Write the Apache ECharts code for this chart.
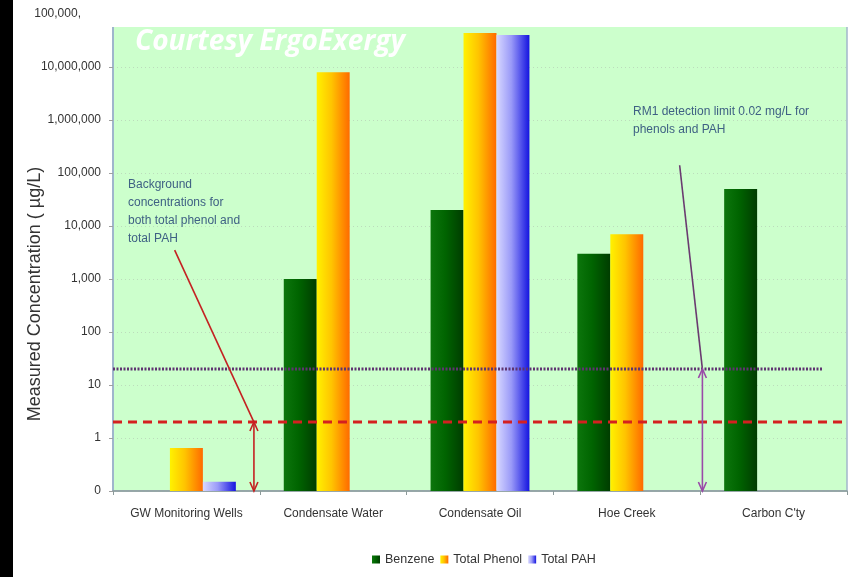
<!DOCTYPE html>
<html>
<head>
<meta charset="utf-8">
<script src="https://cdn.jsdelivr.net/npm/echarts@6/dist/echarts.min.js"></script>
<style>
  html, body { margin: 0; padding: 0; background: #ffffff; }
  #chart { width: 865px; height: 577px; }
</style>
</head>
<body>
<div id="chart"></div>
<script>
// Sites sampled
const categories = ['GW Monitoring Wells', 'Condensate Water', 'Condensate Oil', 'Hoe Creek', "Carbon C'ty"];

// Measured concentrations, µg/L (null = not reported)
const benzene     = [null, 1000, 20000, 3000, 50000];
const totalPhenol = [0.65, 8000000, 44000000, 7000, null];
const totalPAH    = [0.15, null, 40000000, null, null];

// Reference levels, µg/L
const backgroundLevel = 2;    // background for total phenol and total PAH
const detectionLimit = 20;    // RM1 detection limit, 0.02 mg/L

// Log axis range, µg/L
const yMin = 0.1;
const yMax = 100000000;

const BAR_FRACTION = 0.2245;  // each bar's share of a category band
const FONT = '"Liberation Sans", Arial, sans-serif';

const G = echarts.graphic;
const fills = {
  benzene: new G.LinearGradient(0, 0, 1, 0, [
    { offset: 0, color: '#0c760c' }, { offset: 0.45, color: '#006400' }, { offset: 1, color: '#003c00' }
  ]),
  phenol: new G.LinearGradient(0, 0, 1, 0, [
    { offset: 0, color: '#fff200' }, { offset: 0.45, color: '#ffc400' }, { offset: 1, color: '#ff6a00' }
  ]),
  pah: new G.LinearGradient(0, 0, 1, 0, [
    { offset: 0, color: '#d8d8ff' }, { offset: 0.45, color: '#9a9af8' }, { offset: 1, color: '#1414e0' }
  ])
};

function toPoints(values) {
  const pts = [];
  values.forEach((v, i) => { if (v != null) pts.push([i, v]); });
  return pts;
}

// Bars grow up from the bottom of the log axis; slot 0..2 places them side by side in the band
function barSeries(name, values, slot, fill) {
  return {
    name: name,
    type: 'custom',
    data: toPoints(values),
    encode: { x: 0, y: 1 },
    itemStyle: { color: fill },
    renderItem: function (params, api) {
      const cat = api.value(0);
      const val = api.value(1);
      const top = api.coord([cat, val]);
      const base = api.coord([cat, yMin]);
      const band = api.size([1, 0])[0];
      const w = band * BAR_FRACTION;
      const x = top[0] + (slot - 1.5) * w;
      return {
        type: 'rect',
        shape: { x: x, y: top[1], width: w, height: base[1] - top[1] },
        style: { fill: fill }
      };
    }
  };
}

const chart = echarts.init(document.getElementById('chart'), null, { renderer: 'canvas' });

const option = {
  animation: false,
  backgroundColor: '#ffffff',
  textStyle: { fontFamily: FONT },
  grid: {
    left: 113, right: 18, top: 14, bottom: 86,
    show: true,
    backgroundColor: '#ccffcc',
    borderColor: '#a2b6cc',
    borderWidth: 1.5
  },
  legend: {
    data: ['Benzene', 'Total Phenol', 'Total PAH'],
    left: 367, top: 548,
    icon: 'rect',
    itemWidth: 8, itemHeight: 8, itemGap: 6,
    textStyle: { fontFamily: FONT, fontSize: 12.5, color: '#333333' }
  },
  xAxis: {
    type: 'category',
    data: categories,
    axisLine: { lineStyle: { color: '#8c9a9a', width: 1.5 } },
    axisTick: { show: true, length: 4, lineStyle: { color: '#8c9a9a' } },
    axisLabel: { fontFamily: FONT, fontSize: 12, color: '#333333', margin: 17 },
    splitLine: { show: false }
  },
  yAxis: {
    type: 'log',
    logBase: 10,
    min: yMin,
    max: yMax,
    interval: 1,
    axisLine: { show: true, lineStyle: { color: '#9fb5cc', width: 2 } },
    axisTick: { show: true, length: 4, lineStyle: { color: '#a0a0a0' } },
    axisLabel: {
      fontFamily: FONT, fontSize: 12, color: '#333333', margin: 12,
      formatter: function (v) { return Math.round(v).toLocaleString('en-US'); }
    },
    splitLine: { show: true, lineStyle: { color: '#bcdcbc', type: [1, 3], width: 1 } }
  },
  series: [
    barSeries('Benzene', benzene, 0, fills.benzene),
    barSeries('Total Phenol', totalPhenol, 1, fills.phenol),
    barSeries('Total PAH', totalPAH, 2, fills.pah)
  ]
};

chart.setOption(option);

// Reference levels and annotation arrows, placed through the axis scales
const xOf = (i) => chart.convertToPixel({ xAxisIndex: 0 }, i);
const yOf = (v) => chart.convertToPixel({ yAxisIndex: 0 }, v);
const band = xOf(1) - xOf(0);
const plotLeft = xOf(0) - band / 2;
const plotRight = xOf(categories.length - 1) + band / 2;

function arrowHeads(x, yTop, yBot, color) {
  return [
    { type: 'polyline', z: 40, shape: { points: [[x - 4, yTop + 9], [x, yTop], [x + 4, yTop + 9]] }, style: { stroke: color, lineWidth: 1.6, fill: null } },
    { type: 'polyline', z: 40, shape: { points: [[x - 4, yBot - 9], [x, yBot], [x + 4, yBot - 9]] }, style: { stroke: color, lineWidth: 1.6, fill: null } },
    { type: 'line', z: 40, shape: { x1: x, y1: yTop, x2: x, y2: yBot }, style: { stroke: color, lineWidth: 1.6 } }
  ];
}

const redX = xOf(0) + 0.46 * band;
const redTop = yOf(backgroundLevel);
const purpleX = xOf(3) + 0.515 * band;
const purpleTop = yOf(detectionLimit);
const axisBottom = yOf(yMin);

const graphics = [].concat(
  [
    {
      type: 'line', z: 30,
      shape: { x1: plotLeft, y1: yOf(backgroundLevel), x2: plotRight, y2: yOf(backgroundLevel) },
      style: { stroke: '#d42020', lineWidth: 3, lineDash: [9, 6] }
    },
    {
      type: 'line', z: 30,
      shape: { x1: plotLeft, y1: yOf(detectionLimit), x2: xOf(4) + 0.34 * band, y2: yOf(detectionLimit) },
      style: { stroke: '#5e3470', lineWidth: 3, lineDash: [2, 1.5] }
    },
    { type: 'line', z: 40, shape: { x1: xOf(0) - 0.08 * band, y1: yOf(3500), x2: redX, y2: redTop }, style: { stroke: '#c42222', lineWidth: 1.6 } }
  ],
  arrowHeads(redX, redTop, axisBottom, '#c42222'),
  [{ type: 'line', z: 40, shape: { x1: xOf(3) + 0.36 * band, y1: yOf(140000), x2: purpleX, y2: purpleTop }, style: { stroke: '#6a3a70', lineWidth: 1.6 } }],
  arrowHeads(purpleX, purpleTop, axisBottom, '#9a4aa8'),
  [
    {
      type: 'text', z: 45, left: 128, top: 176,
      style: {
        text: 'Background\nconcentrations for\nboth total phenol and\ntotal PAH',
        fill: '#3f6184', font: '12px ' + FONT, lineHeight: 18
      }
    },
    {
      type: 'text', z: 45, left: 633, top: 103,
      style: {
        text: 'RM1 detection limit 0.02 mg/L for\nphenols and PAH',
        fill: '#3f6184', font: '12px ' + FONT, lineHeight: 18
      }
    },
    {
      type: 'text', z: 45, x: 35, y: 294, rotation: Math.PI / 2,
      style: {
        text: 'Measured Concentration ( \u00b5g/L)',
        fill: '#333333', font: '18px ' + FONT, align: 'center', verticalAlign: 'middle'
      }
    },
    // white band across the top and dark strip at the left edge
    { type: 'rect', z: 50, shape: { x: 81, y: 0, width: 784, height: 27 }, style: { fill: '#ffffff' } },
    { type: 'rect', z: 50, shape: { x: 0, y: 0, width: 13, height: 577 }, style: { fill: '#000000' } },
    {
      type: 'text', z: 60, left: 135, top: 28,
      style: {
        text: 'Courtesy ErgoExergy',
        fill: '#ffffff', font: 'italic bold 28px "Open Sans", sans-serif'
      }
    }
  ]
);

chart.setOption({ graphic: graphics });
</script>
</body>
</html>
